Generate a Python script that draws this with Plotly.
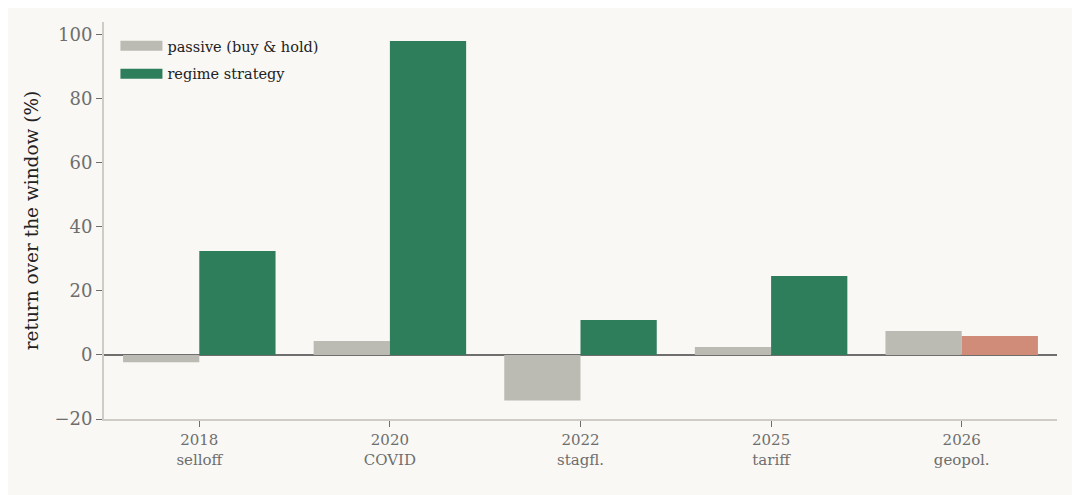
import plotly.graph_objects as go

events = ["2018<br>selloff", "2020<br>COVID", "2022<br>stagfl.", "2025<br>tariff", "2026<br>geopol."]
passive = [-2.3, 4.4, -14.2, 2.5, 7.5]
regime = [32.5, 98.1, 10.9, 24.7, 5.9]

grey = "#bcbbb3"
green = "#2e7d5b"
salmon = "#d08c78"
regime_colors = [green, green, green, green, salmon]

font = "'DejaVu Serif', Georgia, serif"

fig = go.Figure()
fig.add_trace(go.Bar(x=events, y=passive, name="passive (buy & hold)",
                     marker=dict(color=grey, line_width=0),
                     legendgroup="p", showlegend=False))
fig.add_trace(go.Bar(x=events, y=regime, name="regime strategy",
                     marker=dict(color=regime_colors, line_width=0),
                     legendgroup="r", showlegend=False))

# wide rectangular legend swatches (legend-only entries)
for name, col, grp in [("passive (buy & hold)", grey, "p"), ("regime strategy", green, "r")]:
    fig.add_trace(go.Scatter(x=[None], y=[None], mode="lines", name=name,
                             line=dict(color=col, width=12), legendgroup=grp))

fig.update_layout(
    width=1080, height=495,
    barmode="group", bargap=0.2, bargroupgap=0,
    paper_bgcolor="#f9f8f5", plot_bgcolor="#f9f8f5",
    font=dict(family=font, color="#6e6e6e"),
    margin=dict(l=96, r=31, t=14, b=84),
    legend=dict(x=0.012, y=0.98, xanchor="left", yanchor="top",
                bgcolor="rgba(0,0,0,0)", font=dict(size=14.5, color="#222222"),
                tracegroupgap=6, itemwidth=42),
    showlegend=True,
)
fig.update_xaxes(showline=True, linecolor="#cfccc5", linewidth=2,
                 ticks="outside", ticklen=6, tickcolor="#6e6e6e",
                 tickfont=dict(size=15, color="#6e6e6e"), showgrid=False)
fig.update_yaxes(range=[-20, 104], dtick=20, showline=True, linecolor="#cfccc5",
                 linewidth=2, ticks="outside", ticklen=6, tickcolor="#6e6e6e",
                 tickfont=dict(size=18, color="#6e6e6e"), showgrid=False,
                 zeroline=True, zerolinecolor="#6e6e6e", zerolinewidth=1.5,
                 title=dict(text="return over the window (%)",
                            font=dict(size=18.5, color="#222222"), standoff=11))

fig.write_html("out.html")
